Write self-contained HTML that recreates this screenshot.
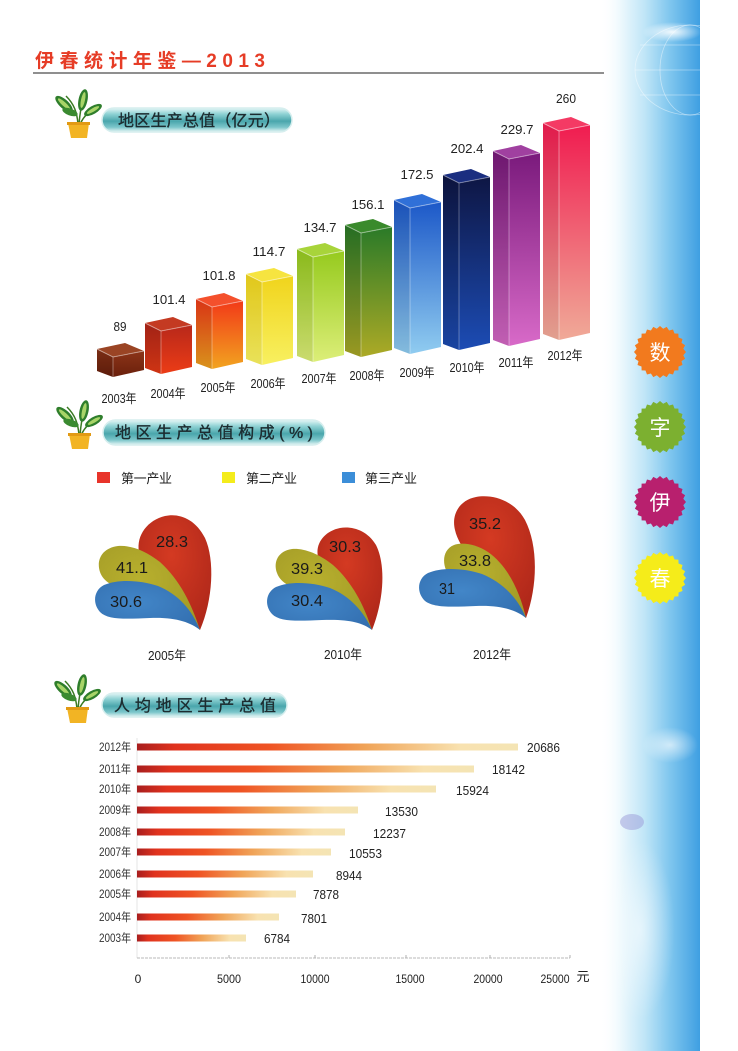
<!DOCTYPE html>
<html><head><meta charset="utf-8">
<style>
html,body{margin:0;padding:0;background:#fff;}
svg{display:block;}
text{font-family:"Liberation Sans","Noto Sans CJK SC",sans-serif;}
</style></head>
<body>
<svg width="738" height="1051" viewBox="0 0 738 1051" xmlns="http://www.w3.org/2000/svg">
<defs>
  <linearGradient id="side" x1="0" y1="0" x2="1" y2="0">
    <stop offset="0" stop-color="#ffffff" stop-opacity="0"/>
    <stop offset="0.2" stop-color="#eef9fd"/>
    <stop offset="0.45" stop-color="#bfe5f7"/>
    <stop offset="0.7" stop-color="#7fc6ee"/>
    <stop offset="1" stop-color="#3f9fe2"/>
  </linearGradient>
  <radialGradient id="glow" cx="0.5" cy="0.5" r="0.5">
    <stop offset="0" stop-color="#ffffff" stop-opacity="0.9"/>
    <stop offset="1" stop-color="#ffffff" stop-opacity="0"/>
  </radialGradient>
  <linearGradient id="pill" x1="0" y1="0" x2="0" y2="1">
    <stop offset="0" stop-color="#e4f6f6"/>
    <stop offset="0.25" stop-color="#8fd2d4"/>
    <stop offset="0.55" stop-color="#4aa6ac"/>
    <stop offset="0.8" stop-color="#7cc6ca"/>
    <stop offset="1" stop-color="#e8f6f6"/>
  </linearGradient>
  <linearGradient id="hbar" x1="0" y1="0" x2="1" y2="0">
    <stop offset="0" stop-color="#a81e1e"/>
    <stop offset="0.1" stop-color="#e0321e"/>
    <stop offset="0.35" stop-color="#ef5424"/>
    <stop offset="0.6" stop-color="#f0a458"/>
    <stop offset="0.85" stop-color="#f8e2b0"/>
    <stop offset="1" stop-color="#f4e4b4"/>
  </linearGradient>
  <linearGradient id="g1" x1="0" y1="0" x2="0" y2="1"><stop offset="0" stop-color="#8c3418"/><stop offset="1" stop-color="#6a200c"/></linearGradient>
  <linearGradient id="g2" x1="0" y1="0" x2="0" y2="1"><stop offset="0" stop-color="#b8281a"/><stop offset="1" stop-color="#ec3c16"/></linearGradient>
  <linearGradient id="g3" x1="0" y1="0" x2="0" y2="1"><stop offset="0" stop-color="#f23a18"/><stop offset="1" stop-color="#f2a420"/></linearGradient>
  <linearGradient id="g4" x1="0" y1="0" x2="0" y2="1"><stop offset="0" stop-color="#f0d41c"/><stop offset="1" stop-color="#f8f060"/></linearGradient>
  <linearGradient id="g5" x1="0" y1="0" x2="0" y2="1"><stop offset="0" stop-color="#96ca1e"/><stop offset="1" stop-color="#dcee78"/></linearGradient>
  <linearGradient id="g6" x1="0" y1="0" x2="0" y2="1"><stop offset="0" stop-color="#2a7a28"/><stop offset="1" stop-color="#acaa26"/></linearGradient>
  <linearGradient id="g7" x1="0" y1="0" x2="0" y2="1"><stop offset="0" stop-color="#1c58c8"/><stop offset="1" stop-color="#90ccf0"/></linearGradient>
  <linearGradient id="g8" x1="0" y1="0" x2="0" y2="1"><stop offset="0" stop-color="#0e1644"/><stop offset="1" stop-color="#1c4cb4"/></linearGradient>
  <linearGradient id="g9" x1="0" y1="0" x2="0" y2="1"><stop offset="0" stop-color="#7a1a7c"/><stop offset="1" stop-color="#d86ac8"/></linearGradient>
  <linearGradient id="g10" x1="0" y1="0" x2="0" y2="1"><stop offset="0" stop-color="#f01c50"/><stop offset="1" stop-color="#f0aa98"/></linearGradient>
  <radialGradient id="pr" cx="0.45" cy="0.35" r="0.7"><stop offset="0" stop-color="#d43a22"/><stop offset="1" stop-color="#b0281a"/></radialGradient>
  <radialGradient id="py" cx="0.4" cy="0.4" r="0.7"><stop offset="0" stop-color="#b8b02e"/><stop offset="1" stop-color="#a29a26"/></radialGradient>
  <radialGradient id="pb" cx="0.4" cy="0.45" r="0.7"><stop offset="0" stop-color="#4286c8"/><stop offset="1" stop-color="#336fb0"/></radialGradient>
  <g id="plant">
    <path d="M78,124 C77,112 74,104 66,96" stroke="#3a7a22" stroke-width="1.5" fill="none"/>
    <path d="M79,124 C80,112 82,102 84,94" stroke="#3a7a22" stroke-width="1.5" fill="none"/>
    <path d="M80,124 C84,116 90,110 97,106" stroke="#3a7a22" stroke-width="1.5" fill="none"/>
    <ellipse cx="64" cy="104" rx="4.5" ry="11" transform="rotate(-48 64 104)" fill="#2f7e2c"/>
    <ellipse cx="64" cy="104" rx="2" ry="8" transform="rotate(-48 64 104)" fill="#a8d468"/>
    <ellipse cx="83" cy="100" rx="4.5" ry="11" transform="rotate(12 83 100)" fill="#2f7e2c"/>
    <ellipse cx="83" cy="100" rx="2" ry="8" transform="rotate(12 83 100)" fill="#a8d468"/>
    <ellipse cx="93" cy="110" rx="4" ry="10" transform="rotate(60 93 110)" fill="#2f7e2c"/>
    <ellipse cx="93" cy="110" rx="1.8" ry="7" transform="rotate(60 93 110)" fill="#a8d468"/>
    <ellipse cx="70" cy="112" rx="3.5" ry="8" transform="rotate(-70 70 112)" fill="#3a8a30"/>
    <path d="M68,123 L89,123 L87,138 L71,138 Z" fill="#f2b424"/>
    <rect x="67" y="122" width="23" height="3" fill="#e29a14"/>
  </g>
  <polygon id="star" points="0,-26 3.2,-23.3 6.7,-25.1 9.1,-21.5 13,-22.5 14.5,-18.5 18.4,-18.4 18.5,-14.5 22.5,-13 21.5,-9.1 25.1,-6.7 23.3,-3.2 26,0 23.3,3.2 25.1,6.7 21.5,9.1 22.5,13 18.5,14.5 18.4,18.4 14.5,18.5 13,22.5 9.1,21.5 6.7,25.1 3.2,23.3 0,26 -3.2,23.3 -6.7,25.1 -9.1,21.5 -13,22.5 -14.5,18.5 -18.4,18.4 -18.5,14.5 -22.5,13 -21.5,9.1 -25.1,6.7 -23.3,3.2 -26,0 -23.3,-3.2 -25.1,-6.7 -21.5,-9.1 -22.5,-13 -18.5,-14.5 -18.4,-18.4 -14.5,-18.5 -13,-22.5 -9.1,-21.5 -6.7,-25.1 -3.2,-23.3"/>
</defs>

<!-- sidebar -->
<rect x="600" y="0" width="100" height="1051" fill="url(#side)"/>
<ellipse cx="672" cy="32" rx="30" ry="10" fill="url(#glow)"/>
<g stroke="#ffffff" stroke-opacity="0.45" fill="none" stroke-width="0.8">
  <ellipse cx="690" cy="70" rx="55" ry="45"/>
  <ellipse cx="690" cy="70" rx="30" ry="45"/>
  <line x1="635" y1="70" x2="700" y2="70"/>
  <line x1="640" y1="45" x2="700" y2="45"/>
  <line x1="640" y1="95" x2="700" y2="95"/>
</g>
<ellipse cx="640" cy="930" rx="35" ry="90" fill="url(#glow)" opacity="0.6"/>
<ellipse cx="670" cy="745" rx="28" ry="18" fill="url(#glow)" opacity="0.7"/>
<ellipse cx="632" cy="822" rx="12" ry="8" fill="#9a9ad8" opacity="0.5"/>

<use href="#star" transform="translate(660,352)" fill="#f27a1e"/>
<use href="#star" transform="translate(660,427)" fill="#7cb030"/>
<use href="#star" transform="translate(660,502)" fill="#b8206e"/>
<use href="#star" transform="translate(660,578)" fill="#f5ec1a"/>
<g fill="#ffffff" font-size="21" text-anchor="middle">
  <text x="660" y="360">数</text>
  <text x="660" y="435">字</text>
  <text x="660" y="510">伊</text>
  <text x="660" y="586">春</text>
</g>

<!-- header -->
<text x="35" y="67" font-size="19" font-weight="bold" fill="#e63c26" textLength="230" lengthAdjust="spacing">伊春统计年鉴—2013</text>
<line x1="33" y1="73" x2="604" y2="73" stroke="#6a6a6a" stroke-width="1.6"/>

<!-- section 1 -->
<use href="#plant"/>
<rect x="102" y="108" width="190" height="24" rx="12" fill="url(#pill)" stroke="#d6eeee" stroke-width="1.5"/>
<text x="118" y="126" font-size="16" fill="#1c2c30" stroke="#1c2c30" stroke-width="0.35" textLength="162" lengthAdjust="spacing">地区生产总值（亿元）</text>

<!-- 3D bars -->
<g stroke="none">
  <polygon points="97,349 113,357 113,377 97,371" fill="url(#g1)"/><polygon points="97,349 113,357 113,377 97,371" fill="#000" opacity="0.12"/>
  <polygon points="113,357 144,351 144,370 113,377" fill="url(#g1)"/>
  <polygon points="97,349 125,343 144,351 113,357" fill="#9a4424"/>
  <polyline points="97,349 113,357 144,351" fill="none" stroke="#fff" stroke-opacity="0.45"/><line x1="113" y1="357" x2="113" y2="377" stroke="#fff" stroke-opacity="0.35"/>

  <polygon points="145,323 161,331 161,374 145,368" fill="url(#g2)"/><polygon points="145,323 161,331 161,374 145,368" fill="#000" opacity="0.12"/>
  <polygon points="161,331 192,325 192,367 161,374" fill="url(#g2)"/>
  <polygon points="145,323 173,317 192,325 161,331" fill="#c43a22"/>
  <polyline points="145,323 161,331 192,325" fill="none" stroke="#fff" stroke-opacity="0.45"/><line x1="161" y1="331" x2="161" y2="374" stroke="#fff" stroke-opacity="0.35"/>

  <polygon points="196,299 212,307 212,369 196,363" fill="url(#g3)"/><polygon points="196,299 212,307 212,369 196,363" fill="#000" opacity="0.1"/>
  <polygon points="212,307 243,301 243,362 212,369" fill="url(#g3)"/>
  <polygon points="196,299 224,293 243,301 212,307" fill="#f4502c"/>
  <polyline points="196,299 212,307 243,301" fill="none" stroke="#fff" stroke-opacity="0.45"/><line x1="212" y1="307" x2="212" y2="369" stroke="#fff" stroke-opacity="0.35"/>

  <polygon points="246,274 262,282 262,365 246,359" fill="url(#g4)"/><polygon points="246,274 262,282 262,365 246,359" fill="#000" opacity="0.06"/>
  <polygon points="262,282 293,276 293,358 262,365" fill="url(#g4)"/>
  <polygon points="246,274 274,268 293,276 262,282" fill="#f6e440"/>
  <polyline points="246,274 262,282 293,276" fill="none" stroke="#fff" stroke-opacity="0.5"/><line x1="262" y1="282" x2="262" y2="365" stroke="#fff" stroke-opacity="0.4"/>

  <polygon points="297,249 313,257 313,362 297,356" fill="url(#g5)"/><polygon points="297,249 313,257 313,362 297,356" fill="#000" opacity="0.08"/>
  <polygon points="313,257 344,251 344,355 313,362" fill="url(#g5)"/>
  <polygon points="297,249 325,243 344,251 313,257" fill="#a8d43a"/>
  <polyline points="297,249 313,257 344,251" fill="none" stroke="#fff" stroke-opacity="0.5"/><line x1="313" y1="257" x2="313" y2="362" stroke="#fff" stroke-opacity="0.4"/>

  <polygon points="345,225 361,233 361,357 345,351" fill="url(#g6)"/><polygon points="345,225 361,233 361,357 345,351" fill="#000" opacity="0.1"/>
  <polygon points="361,233 392,227 392,350 361,357" fill="url(#g6)"/>
  <polygon points="345,225 373,219 392,227 361,233" fill="#3a8a2c"/>
  <polyline points="345,225 361,233 392,227" fill="none" stroke="#fff" stroke-opacity="0.45"/><line x1="361" y1="233" x2="361" y2="357" stroke="#fff" stroke-opacity="0.35"/>

  <polygon points="394,200 410,208 410,354 394,348" fill="url(#g7)"/><polygon points="394,200 410,208 410,354 394,348" fill="#000" opacity="0.08"/>
  <polygon points="410,208 441,202 441,347 410,354" fill="url(#g7)"/>
  <polygon points="394,200 422,194 441,202 410,208" fill="#3070d8"/>
  <polyline points="394,200 410,208 441,202" fill="none" stroke="#fff" stroke-opacity="0.45"/><line x1="410" y1="208" x2="410" y2="354" stroke="#fff" stroke-opacity="0.35"/>

  <polygon points="443,175 459,183 459,350 443,344" fill="url(#g8)"/><polygon points="443,175 459,183 459,350 443,344" fill="#000" opacity="0.1"/>
  <polygon points="459,183 490,177 490,343 459,350" fill="url(#g8)"/>
  <polygon points="443,175 471,169 490,177 459,183" fill="#1a2e80"/>
  <polyline points="443,175 459,183 490,177" fill="none" stroke="#fff" stroke-opacity="0.4"/><line x1="459" y1="183" x2="459" y2="350" stroke="#fff" stroke-opacity="0.3"/>

  <polygon points="493,151 509,159 509,346 493,340" fill="url(#g9)"/><polygon points="493,151 509,159 509,346 493,340" fill="#000" opacity="0.1"/>
  <polygon points="509,159 540,153 540,339 509,346" fill="url(#g9)"/>
  <polygon points="493,151 521,145 540,153 509,159" fill="#a040a0"/>
  <polyline points="493,151 509,159 540,153" fill="none" stroke="#fff" stroke-opacity="0.45"/><line x1="509" y1="159" x2="509" y2="346" stroke="#fff" stroke-opacity="0.35"/>

  <polygon points="543,123 559,131 559,340 543,334" fill="url(#g10)"/><polygon points="543,123 559,131 559,340 543,334" fill="#000" opacity="0.06"/>
  <polygon points="559,131 590,125 590,333 559,340" fill="url(#g10)"/>
  <polygon points="543,123 571,117 590,125 559,131" fill="#f43a64"/>
  <polyline points="543,123 559,131 590,125" fill="none" stroke="#fff" stroke-opacity="0.5"/><line x1="559" y1="131" x2="559" y2="340" stroke="#fff" stroke-opacity="0.4"/>
</g>

<g font-size="13" fill="#222" text-anchor="middle">
  <text x="120" y="331" textLength="13" lengthAdjust="spacingAndGlyphs">89</text>
  <text x="169" y="304" textLength="33" lengthAdjust="spacingAndGlyphs">101.4</text>
  <text x="219" y="280" textLength="33" lengthAdjust="spacingAndGlyphs">101.8</text>
  <text x="269" y="256" textLength="33" lengthAdjust="spacingAndGlyphs">114.7</text>
  <text x="320" y="232" textLength="33" lengthAdjust="spacingAndGlyphs">134.7</text>
  <text x="368" y="209" textLength="33" lengthAdjust="spacingAndGlyphs">156.1</text>
  <text x="417" y="179" textLength="33" lengthAdjust="spacingAndGlyphs">172.5</text>
  <text x="467" y="153" textLength="33" lengthAdjust="spacingAndGlyphs">202.4</text>
  <text x="517" y="134" textLength="33" lengthAdjust="spacingAndGlyphs">229.7</text>
  <text x="566" y="103" textLength="20" lengthAdjust="spacingAndGlyphs">260</text>
</g>
<g font-size="13" fill="#222" text-anchor="middle">
  <text x="119" y="403" textLength="35" lengthAdjust="spacingAndGlyphs">2003年</text>
  <text x="168" y="398" textLength="35" lengthAdjust="spacingAndGlyphs">2004年</text>
  <text x="218" y="392" textLength="35" lengthAdjust="spacingAndGlyphs">2005年</text>
  <text x="268" y="388" textLength="35" lengthAdjust="spacingAndGlyphs">2006年</text>
  <text x="319" y="383" textLength="35" lengthAdjust="spacingAndGlyphs">2007年</text>
  <text x="367" y="380" textLength="35" lengthAdjust="spacingAndGlyphs">2008年</text>
  <text x="417" y="377" textLength="35" lengthAdjust="spacingAndGlyphs">2009年</text>
  <text x="467" y="372" textLength="35" lengthAdjust="spacingAndGlyphs">2010年</text>
  <text x="516" y="367" textLength="35" lengthAdjust="spacingAndGlyphs">2011年</text>
  <text x="565" y="360" textLength="35" lengthAdjust="spacingAndGlyphs">2012年</text>
</g>

<!-- section 2 -->
<use href="#plant" transform="translate(1,311)"/>
<rect x="103" y="420" width="222" height="25" rx="12.5" fill="url(#pill)" stroke="#d6eeee" stroke-width="1.5"/>
<text x="115" y="438" font-size="16" fill="#1c2c30" stroke="#1c2c30" stroke-width="0.35" textLength="198" lengthAdjust="spacing">地区生产总值构成(%)</text>

<rect x="97" y="472" width="13" height="11" fill="#e8342a"/>
<text x="121" y="483" font-size="13" fill="#222" textLength="51" lengthAdjust="spacing">第一产业</text>
<rect x="222" y="472" width="13" height="11" fill="#f4ec1c"/>
<text x="246" y="483" font-size="13" fill="#222" textLength="51" lengthAdjust="spacing">第二产业</text>
<rect x="342" y="472" width="13" height="11" fill="#3c8ed8"/>
<text x="365" y="483" font-size="13" fill="#222" textLength="52" lengthAdjust="spacing">第三产业</text>

<!-- petals 2005 -->
<path d="M200,630 C213,600 215,560 205,538 C195,518 178,513 165,516 C148,520 136,535 139,552 C142,572 165,590 180,603 C190,612 196,621 200,630 Z" fill="url(#pr)"/>
<path d="M200,630 C192,605 180,580 160,562 C145,550 130,545 118,546 C102,548 96,560 100,572 C104,584 120,590 140,594 C165,600 188,612 200,630 Z" fill="url(#py)"/>
<path d="M200,630 C190,622 175,617 150,618 C125,619 108,620 100,612 C92,603 94,590 104,585 C118,579 140,580 158,586 C178,594 192,610 200,630 Z" fill="url(#pb)"/>
<!-- petals 2010 -->
<path d="M372,630 C384,600 386,565 376,545 C367,530 352,526 340,528 C325,531 315,543 318,557 C321,573 340,590 352,603 C362,613 368,621 372,630 Z" fill="url(#pr)"/>
<path d="M372,630 C364,605 352,582 333,565 C318,553 303,548 292,549 C278,551 273,562 277,573 C281,585 297,590 315,594 C340,600 362,612 372,630 Z" fill="url(#py)"/>
<path d="M372,630 C362,622 347,619 322,620 C297,621 280,622 272,614 C264,605 266,592 276,587 C290,581 312,582 330,588 C350,596 364,612 372,630 Z" fill="url(#pb)"/>
<!-- petals 2012 -->
<path d="M526,618 C538,585 538,545 525,520 C514,500 492,494 476,497 C460,500 451,514 455,530 C459,548 480,572 496,588 C510,600 520,610 526,618 Z" fill="url(#pr)"/>
<path d="M526,618 C520,592 508,566 488,552 C476,544 462,542 454,545 C444,549 442,560 446,570 C450,580 462,583 478,588 C500,596 518,606 526,618 Z" fill="url(#py)"/>
<path d="M526,618 C516,610 501,605 476,606 C451,607 432,608 424,600 C416,591 418,578 428,573 C442,567 464,568 482,574 C502,582 518,598 526,618 Z" fill="url(#pb)"/>

<g font-size="16" fill="#1a1a1a" text-anchor="middle">
  <text x="172" y="547" textLength="32" lengthAdjust="spacingAndGlyphs">28.3</text>
  <text x="132" y="573" textLength="32" lengthAdjust="spacingAndGlyphs">41.1</text>
  <text x="126" y="607" textLength="32" lengthAdjust="spacingAndGlyphs">30.6</text>
  <text x="345" y="552" textLength="32" lengthAdjust="spacingAndGlyphs">30.3</text>
  <text x="307" y="574" textLength="32" lengthAdjust="spacingAndGlyphs">39.3</text>
  <text x="307" y="606" textLength="32" lengthAdjust="spacingAndGlyphs">30.4</text>
  <text x="485" y="529" textLength="32" lengthAdjust="spacingAndGlyphs">35.2</text>
  <text x="475" y="566" textLength="32" lengthAdjust="spacingAndGlyphs">33.8</text>
  <text x="447" y="594" textLength="16" lengthAdjust="spacingAndGlyphs">31</text>
</g>
<g font-size="13" fill="#222" text-anchor="middle">
  <text x="167" y="660" textLength="38" lengthAdjust="spacingAndGlyphs">2005年</text>
  <text x="343" y="659" textLength="38" lengthAdjust="spacingAndGlyphs">2010年</text>
  <text x="492" y="659" textLength="38" lengthAdjust="spacingAndGlyphs">2012年</text>
</g>

<!-- section 3 -->
<use href="#plant" transform="translate(-1,585)"/>
<rect x="102" y="693" width="185" height="24" rx="12" fill="url(#pill)" stroke="#d6eeee" stroke-width="1.5"/>
<text x="114" y="711" font-size="16" fill="#1c2c30" stroke="#1c2c30" stroke-width="0.35" textLength="162" lengthAdjust="spacing">人均地区生产总值</text>

<line x1="137" y1="738" x2="137" y2="958" stroke="#e4e4e4" stroke-width="1"/>
<line x1="137" y1="958" x2="570" y2="958" stroke="#b8b8b8" stroke-width="1" stroke-dasharray="3,1"/>
<g stroke="#b0b0b0" stroke-width="1">
  <line x1="229" y1="955" x2="229" y2="958"/><line x1="315" y1="955" x2="315" y2="958"/>
  <line x1="406" y1="955" x2="406" y2="958"/><line x1="490" y1="955" x2="490" y2="958"/>
  <line x1="570" y1="955" x2="570" y2="958"/>
</g>

<g fill="url(#hbar)">
  <rect x="137" y="743.5" width="381" height="7"/>
  <rect x="137" y="765.5" width="337" height="7"/>
  <rect x="137" y="785.5" width="299" height="7"/>
  <rect x="137" y="806.5" width="221" height="7"/>
  <rect x="137" y="828.5" width="208" height="7"/>
  <rect x="137" y="848.5" width="194" height="7"/>
  <rect x="137" y="870.5" width="176" height="7"/>
  <rect x="137" y="890.5" width="159" height="7"/>
  <rect x="137" y="913.5" width="142" height="7"/>
  <rect x="137" y="934.5" width="109" height="7"/>
</g>
<g font-size="11.5" fill="#333" text-anchor="end">
  <text x="131" y="751" textLength="32" lengthAdjust="spacingAndGlyphs">2012年</text>
  <text x="131" y="773" textLength="32" lengthAdjust="spacingAndGlyphs">2011年</text>
  <text x="131" y="793" textLength="32" lengthAdjust="spacingAndGlyphs">2010年</text>
  <text x="131" y="814" textLength="32" lengthAdjust="spacingAndGlyphs">2009年</text>
  <text x="131" y="836" textLength="32" lengthAdjust="spacingAndGlyphs">2008年</text>
  <text x="131" y="856" textLength="32" lengthAdjust="spacingAndGlyphs">2007年</text>
  <text x="131" y="878" textLength="32" lengthAdjust="spacingAndGlyphs">2006年</text>
  <text x="131" y="898" textLength="32" lengthAdjust="spacingAndGlyphs">2005年</text>
  <text x="131" y="921" textLength="32" lengthAdjust="spacingAndGlyphs">2004年</text>
  <text x="131" y="942" textLength="32" lengthAdjust="spacingAndGlyphs">2003年</text>
</g>
<g font-size="13" fill="#222">
  <text x="527" y="752" textLength="33" lengthAdjust="spacingAndGlyphs">20686</text>
  <text x="492" y="774" textLength="33" lengthAdjust="spacingAndGlyphs">18142</text>
  <text x="456" y="795" textLength="33" lengthAdjust="spacingAndGlyphs">15924</text>
  <text x="385" y="816" textLength="33" lengthAdjust="spacingAndGlyphs">13530</text>
  <text x="373" y="838" textLength="33" lengthAdjust="spacingAndGlyphs">12237</text>
  <text x="349" y="858" textLength="33" lengthAdjust="spacingAndGlyphs">10553</text>
  <text x="336" y="880" textLength="26" lengthAdjust="spacingAndGlyphs">8944</text>
  <text x="313" y="899" textLength="26" lengthAdjust="spacingAndGlyphs">7878</text>
  <text x="301" y="923" textLength="26" lengthAdjust="spacingAndGlyphs">7801</text>
  <text x="264" y="943" textLength="26" lengthAdjust="spacingAndGlyphs">6784</text>
</g>
<g font-size="12" fill="#222" text-anchor="middle">
  <text x="138" y="983">0</text>
  <text x="229" y="983" textLength="24" lengthAdjust="spacingAndGlyphs">5000</text>
  <text x="315" y="983" textLength="29" lengthAdjust="spacingAndGlyphs">10000</text>
  <text x="410" y="983" textLength="29" lengthAdjust="spacingAndGlyphs">15000</text>
  <text x="488" y="983" textLength="29" lengthAdjust="spacingAndGlyphs">20000</text>
  <text x="555" y="983" textLength="29" lengthAdjust="spacingAndGlyphs">25000</text>
  <text x="583" y="981" font-size="13">元</text>
</g>
</svg>
</body></html>
